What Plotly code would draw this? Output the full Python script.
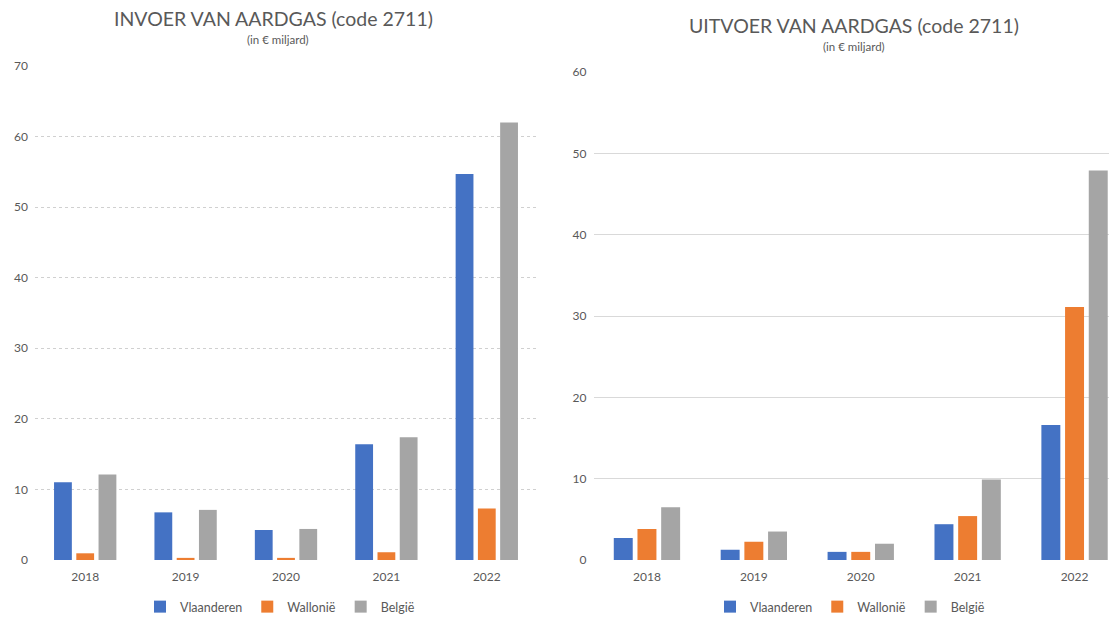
import plotly.graph_objects as go

years = ["2018", "2019", "2020", "2021", "2022"]
series_names = ["Vlaanderen", "Wallonië", "België"]
colors = ["#4472C4", "#ED7D31", "#A5A5A5"]

invoer_vlaanderen = [11.0, 6.75, 4.25, 16.4, 54.7]
invoer_wallonie = [0.95, 0.3, 0.3, 1.1, 7.3]
invoer_belgie = [12.1, 7.1, 4.4, 17.4, 62.0]

uitvoer_vlaanderen = [2.7, 1.25, 1.0, 4.4, 16.6]
uitvoer_wallonie = [3.8, 2.25, 1.0, 5.4, 31.1]
uitvoer_belgie = [6.5, 3.5, 2.0, 9.9, 47.9]

OFF = 8  # page body margin
W, H = 1117 - OFF, 619 - OFF
FONT = "Lato"
TXT = "#595959"

fig = go.Figure()
inv = [invoer_vlaanderen, invoer_wallonie, invoer_belgie]
uit = [uitvoer_vlaanderen, uitvoer_wallonie, uitvoer_belgie]
for name, vals, c in zip(series_names, inv, colors):
    fig.add_trace(go.Bar(x=years, y=vals, name=name, marker=dict(color=c, line=dict(width=0)),
                         xaxis="x", yaxis="y", legend="legend", offsetgroup=name))
for name, vals, c in zip(series_names, uit, colors):
    fig.add_trace(go.Bar(x=years, y=vals, name=name, marker=dict(color=c, line=dict(width=0)),
                         xaxis="x2", yaxis="y2", legend="legend2", offsetgroup=name))

def px(x):
    return (x - OFF) / W

def py(y):
    return 1 - (y - OFF) / H

axis_font = dict(family=FONT, size=12, color=TXT)
# right chart: category pitch ~106.9 px, clipped at window's right edge
r_start, r_end, r_pitch = 593.5, 1117, 106.9
r_units = (r_end - r_start) / r_pitch

fig.update_layout(
    width=W, height=H,
    margin=dict(l=0, r=0, t=0, b=0, autoexpand=False),
    paper_bgcolor="white", plot_bgcolor="white",
    barmode="group", bargap=0.335, bargroupgap=0.2,
    font=dict(family=FONT, color=TXT),
    xaxis=dict(domain=[px(35), px(537)], anchor="y", showgrid=False, showline=False,
               ticks="", tickfont=axis_font, zeroline=False, automargin=False,
               ticklabelstandoff=8),
    yaxis=dict(domain=[py(560), py(66)], anchor="x", range=[0, 70], dtick=10,
               showgrid=True, gridcolor="#D0D0D0", griddash="dot", gridwidth=1,
               zeroline=False, showline=False, ticks="", tickfont=axis_font, ticklabelstandoff=6,
               automargin=False),
    xaxis2=dict(domain=[px(r_start), px(r_end)], anchor="y2", showgrid=False, showline=False,
                range=[-0.5, -0.5 + r_units],
                ticks="", tickfont=axis_font, zeroline=False, automargin=False,
                ticklabelstandoff=8),
    yaxis2=dict(domain=[py(560), py(72)], anchor="x2", range=[0, 60], dtick=10,
                showgrid=True, gridcolor="#D9D9D9", gridwidth=1,
                zeroline=False, showline=False, ticks="", tickfont=axis_font, ticklabelstandoff=6,
                automargin=False),
    legend=dict(orientation="h", x=px(280), xanchor="center", y=py(607), yanchor="middle",
                font=dict(family=FONT, size=12.5, color=TXT), traceorder="normal",
                itemwidth=30),
    legend2=dict(orientation="h", x=px(850), xanchor="center", y=py(607), yanchor="middle",
                 font=dict(family=FONT, size=12.5, color=TXT), traceorder="normal",
                 itemwidth=30),
    annotations=[
        dict(text="INVOER VAN AARDGAS (code 2711)", x=px(273), y=py(18), xref="paper", yref="paper",
             showarrow=False, font=dict(family=FONT, size=19.5, color=TXT), xanchor="center", yanchor="middle"),
        dict(text="(in € miljard)", x=px(278), y=py(40), xref="paper", yref="paper",
             showarrow=False, font=dict(family=FONT, size=11.5, color=TXT), xanchor="center", yanchor="middle"),
        dict(text="UITVOER VAN AARDGAS (code 2711)", x=px(854), y=py(25), xref="paper", yref="paper",
             showarrow=False, font=dict(family=FONT, size=19.5, color=TXT), xanchor="center", yanchor="middle"),
        dict(text="(in € miljard)", x=px(854), y=py(46), xref="paper", yref="paper",
             showarrow=False, font=dict(family=FONT, size=11.5, color=TXT), xanchor="center", yanchor="middle"),
    ],
)

fig.write_html("out.html")
